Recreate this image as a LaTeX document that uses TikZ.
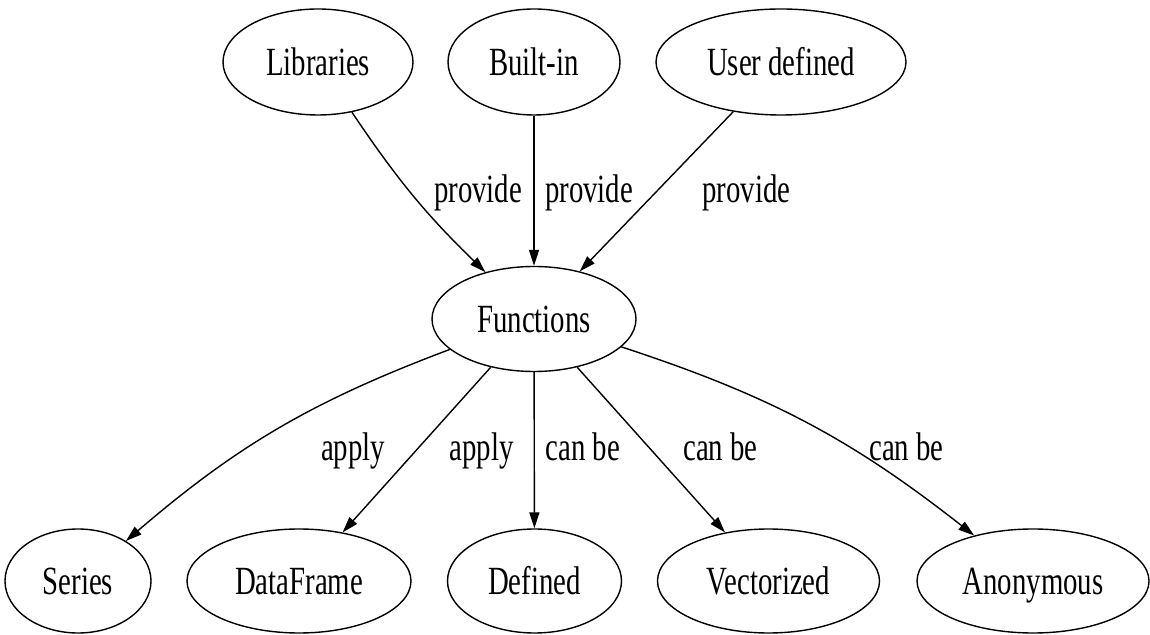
\documentclass[tikz,border=0pt]{standalone}
\usepackage{fontspec}
\setmainfont[FakeStretch=0.72]{Liberation Serif}
\usetikzlibrary{arrows.meta,shapes.geometric}
\tikzset{
  gnode/.style={draw, line width=1.4pt, ellipse, inner sep=0pt, text height=27pt, text depth=0pt,
    font=\fontsize{40}{44}\selectfont},
  glabel/.style={anchor=base, inner sep=0pt, font=\fontsize{40}{44}\selectfont},
  gedge/.style={line width=1.4pt, -{Triangle[length=16pt,width=10pt]}}
}
\begin{document}
\begin{tikzpicture}[x=1pt,y=1pt]
\useasboundingbox (0,0) rectangle (1150,634);
% top row
\node[gnode, minimum width=190pt, minimum height=106pt] (lib) at (318,572) {Libraries};
\node[gnode, minimum width=172pt, minimum height=106pt] (bui) at (534,572) {Built-in};
\node[gnode, minimum width=250pt, minimum height=106pt] (usr) at (781,572) {User defined};
% middle
\node[gnode, minimum width=204pt, minimum height=105pt] (fun) at (534,315) {Functions};
% bottom row
\node[gnode, minimum width=146pt, minimum height=104pt] (ser) at (78,53) {Series};
\node[gnode, minimum width=224pt, minimum height=104pt] (dfr) at (299,53) {DataFrame};
\node[gnode, minimum width=174pt, minimum height=104pt] (def) at (534.5,53) {Defined};
\node[gnode, minimum width=222pt, minimum height=104pt] (vec) at (768.5,53) {Vectorized};
\node[gnode, minimum width=232pt, minimum height=104pt] (ano) at (1033,53) {Anonymous};
% edges
\draw[gedge] (lib) to[bend right=6] (fun);
\draw[gedge] (bui) -- (fun);
\draw[gedge] (usr) -- (fun);
\draw[gedge] (fun) to[bend right=10] (ser);
\draw[gedge] (fun) -- (dfr);
\draw[gedge] (fun) -- (def);
\draw[gedge] (fun) -- (vec);
\draw[gedge] (fun) to[bend left=10] (ano);
% labels
\node[glabel] (l1) at (478,431) {provide};
\node[glabel] (l2) at (589,431) {provide};
\node[glabel] (l3) at (746.5,431) {provide};
\node[glabel] (l4) at (353,173) {apply};
\node[glabel] (l5) at (481.5,173) {apply};
\node[glabel] (l6) at (583,173) {can be};
\node[glabel] (l7) at (720.5,173) {can be};
\node[glabel] (l8) at (906.5,173) {can be};
\end{tikzpicture}
\end{document}
